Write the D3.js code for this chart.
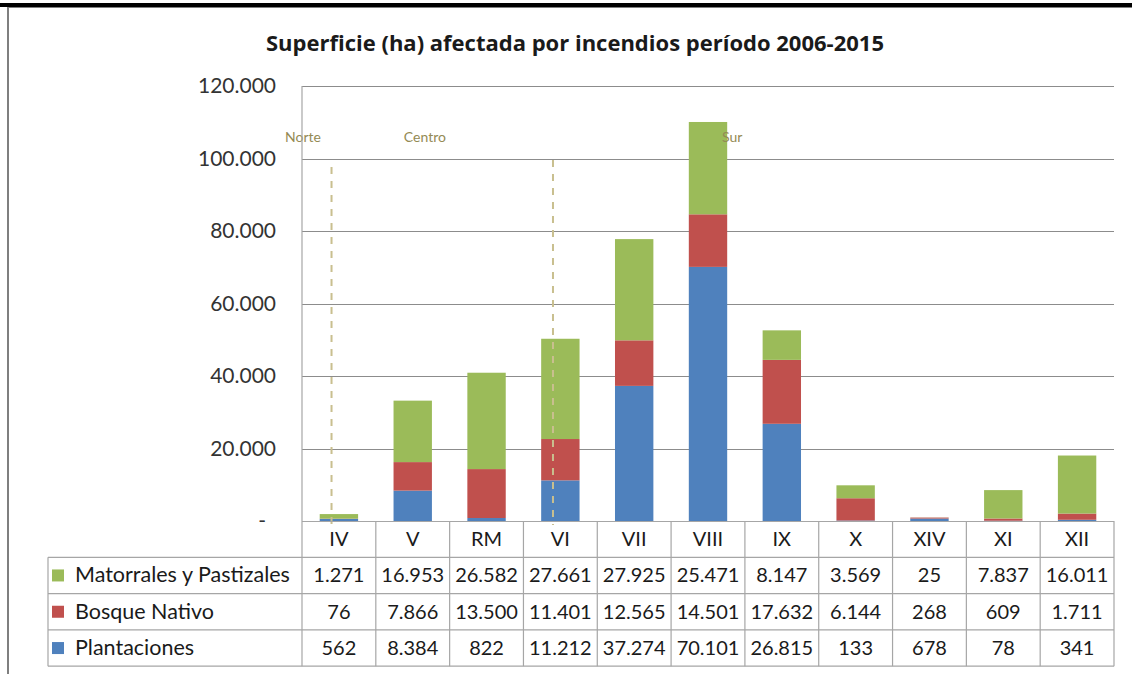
<!DOCTYPE html>
<meta charset="utf-8">
<style>
    body { margin: 0; background: #fff; }
    text { font-family: Lato, "Open Sans", sans-serif; fill: #1a1a1a; }
    .grid line { stroke: #8c8c8c; stroke-width: 1; }
    .tbl line { stroke: #a6a6a6; stroke-width: 1.2; }
    .zone { stroke: #c9bf8f; stroke-width: 2; stroke-dasharray: 7,7; }
    .zoneLbl { fill: #948a54; font-size: 14px; }
</style>
<body>
<script src="https://cdn.jsdelivr.net/npm/d3@7"></script>
<script>

    var regiones = ["IV", "V", "RM", "VI", "VII", "VIII", "IX", "X", "XIV", "XI", "XII"];
    var plantaciones = [562, 8384, 822, 11212, 37274, 70101, 26815, 133, 678, 78, 341];
    var bosqueNativo = [76, 7866, 13500, 11401, 12565, 14501, 17632, 6144, 268, 609, 1711];
    var matorrales = [1271, 16953, 26582, 27661, 27925, 25471, 8147, 3569, 25, 7837, 16011];
    var yTicks = [0, 20000, 40000, 60000, 80000, 100000, 120000];
    var zonas = [{nombre: "Norte", antes: "IV"}, {nombre: "Centro", antes: "V"}, {nombre: "Sur", antes: "VIII"}];
    var divisiones = ["IV", "VI"];

    var series = [
        {key: "Plantaciones", values: plantaciones, color: "#4f81bd"},
        {key: "Bosque Nativo", values: bosqueNativo, color: "#c0504d"},
        {key: "Matorrales y Pastizales", values: matorrales, color: "#9bbb59"}
    ];

    var W = 1132, H = 674;
    var pLeft = 302, pRight = 1114, pTop = 86, pBottom = 521;
    var rowH = 36.3;

    var loc = d3.formatLocale({decimal: ",", thousands: ".", grouping: [3], currency: ["", ""]});
    var fmt = loc.format(",d");

    var svg = d3.select("body").append("svg")
            .attr("width", W)
            .attr("height", H);

    // frame
    svg.append("rect").attr("x", 0).attr("y", 3).attr("width", W).attr("height", 4).attr("fill", "#000");
    svg.append("line").attr("x1", 8).attr("x2", 8).attr("y1", 7).attr("y2", H)
            .attr("stroke", "#7f7f7f").attr("stroke-width", 2);
    svg.append("line").attr("x1", 8).attr("x2", W).attr("y1", 7.5).attr("y2", 7.5)
            .attr("stroke", "#7f7f7f").attr("stroke-width", 1);

    svg.append("text")
            .attr("x", 575).attr("y", 51)
            .attr("text-anchor", "middle")
            .style("font-family", "'Open Sans', sans-serif")
            .style("font-size", "22px").style("font-weight", "bold")
            .text("Superficie (ha) afectada por incendios período 2006-2015");

    var x = d3.scaleBand().domain(regiones).range([pLeft, pRight]).paddingInner(0.48).paddingOuter(0.24);
    var xCell = d3.scaleBand().domain(regiones).range([pLeft, pRight]);
    var y = d3.scaleLinear().domain([0, 120000]).range([pBottom, pTop]);

    // gridlines
    svg.append("g").attr("class", "grid")
            .selectAll("line").data(yTicks.slice(1)).enter()
            .append("line")
            .attr("x1", pLeft).attr("x2", pRight)
            .attr("y1", function(d) { return Math.round(y(d)) + 0.5; })
            .attr("y2", function(d) { return Math.round(y(d)) + 0.5; });

    svg.selectAll("text.ytick").data(yTicks).enter()
            .append("text")
            .attr("class", "ytick")
            .attr("x", function(d) { return d === 0 ? 266 : 276; })
            .attr("y", function(d) { return y(d) + 7; })
            .attr("text-anchor", "end")
            .style("font-size", "21px")
            .style("fill", "#333")
            .text(function(d) { return d === 0 ? "-" : fmt(d); });

    // stacked bars
    var rows = regiones.map(function(r, i) {
        var o = {region: r};
        series.forEach(function(s) { o[s.key] = s.values[i]; });
        return o;
    });
    var stack = d3.stack().keys(series.map(function(s) { return s.key; }))(rows);

    svg.selectAll("g.layer").data(stack).enter()
            .append("g")
            .attr("class", "layer")
            .attr("fill", function(d, i) { return series[i].color; })
            .selectAll("rect").data(function(d) { return d; }).enter()
            .append("rect")
            .attr("x", function(d) { return x(d.data.region); })
            .attr("width", x.bandwidth())
            .attr("y", function(d) { return y(d[1]); })
            .attr("height", function(d) { return y(d[0]) - y(d[1]); });

    // zone dividers
    svg.selectAll("line.zone").data(divisiones).enter()
            .append("line")
            .attr("class", "zone")
            .attr("x1", function(d) { return xCell(d) + xCell.bandwidth() * 0.4; })
            .attr("x2", function(d) { return xCell(d) + xCell.bandwidth() * 0.4; })
            .attr("y1", function(d, i) { return i === 0 ? 167 : 160; })
            .attr("y2", pBottom + 4);

    svg.selectAll("text.zoneLbl").data(zonas).enter()
            .append("text")
            .attr("class", "zoneLbl")
            .attr("x", function(d) { return xCell(d.antes) + (d.nombre === "Norte" ? -17 : d.nombre === "Centro" ? 28 : 51); })
            .attr("y", 142)
            .text(function(d) { return d.nombre; });

    // data table
    var tbl = svg.append("g").attr("class", "tbl");
    var tableBottom = pBottom + rowH * 4;
    tbl.append("line").attr("x1", pLeft).attr("x2", pLeft).attr("y1", pTop).attr("y2", tableBottom);
    tbl.selectAll("line.v").data(regiones).enter()
            .append("line").attr("class", "v")
            .attr("x1", function(d) { return xCell(d) + xCell.bandwidth(); })
            .attr("x2", function(d) { return xCell(d) + xCell.bandwidth(); })
            .attr("y1", pBottom).attr("y2", tableBottom);
    tbl.append("line").attr("x1", 48).attr("x2", 48).attr("y1", pBottom + rowH).attr("y2", tableBottom);
    tbl.append("line").attr("x1", pLeft).attr("x2", pRight).attr("y1", pBottom + 0.5).attr("y2", pBottom + 0.5);
    [1, 2, 3, 4].forEach(function(k) {
        tbl.append("line").attr("x1", 48).attr("x2", pRight)
                .attr("y1", pBottom + rowH * k).attr("y2", pBottom + rowH * k);
    });

    svg.selectAll("text.cat").data(regiones).enter()
            .append("text").attr("class", "cat")
            .attr("x", function(d) { return xCell(d) + xCell.bandwidth() / 2; })
            .attr("y", pBottom + rowH / 2 + 7)
            .attr("text-anchor", "middle")
            .style("font-size", "20px")
            .text(function(d) { return d; });

    var tableSeries = series.slice().reverse();
    tableSeries.forEach(function(s, k) {
        var ry = pBottom + rowH * (k + 1);
        svg.append("rect").attr("x", 52).attr("y", ry + rowH / 2 - 6).attr("width", 12).attr("height", 12)
                .attr("fill", s.color);
        svg.append("text").attr("x", 75).attr("y", ry + rowH / 2 + 7)
                .style("font-size", "21.5px").text(s.key);
        svg.selectAll("text.v" + k).data(s.values).enter()
                .append("text").attr("class", "v" + k)
                .attr("x", function(d, i) { return xCell(regiones[i]) + xCell.bandwidth() / 2; })
                .attr("y", ry + rowH / 2 + 7)
                .attr("text-anchor", "middle")
                .style("font-size", "20px")
                .text(function(d) { return fmt(d); });
    });

</script>
